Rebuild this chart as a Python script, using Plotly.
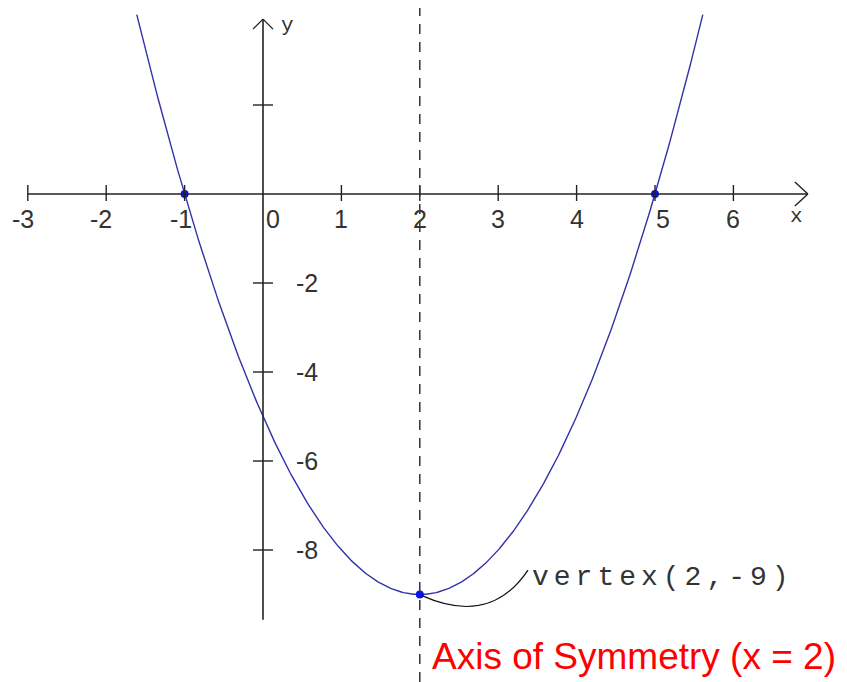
import plotly.graph_objects as go
import numpy as np

# ---- data ----
coef_a, coef_b, coef_c = 1, -4, -5          # y = x^2 - 4x - 5
curve_x_min, curve_x_max = -1.61, 5.61
key_x = [-1, 5, 2]
key_y = [0, 0, -9]
x_ticks = [-3, -2, -1, 0, 1, 2, 3, 4, 5, 6]
x_tick_labels = ["-3", "-2", "-1", "0", "1", "2", "3", "4", "5", "6"]
y_ticks = [2, -2, -4, -6, -8]
y_tick_labels = ["", "-2", "-4", "-6", "-8"]
axis_of_symmetry = 2
vertex_label = "vertex(2,-9)"
axis_label = "Axis of Symmetry (x = 2)"

# ---- geometry (page body has an 8px margin) ----
W, H = 839, 674
PX_X = 78.4   # px per x unit
PX_Y = 44.5   # px per y unit
X0PX, Y0PX = 255, 186
xr = [-X0PX / PX_X, (W - X0PX) / PX_X]
yr = [-(H - Y0PX) / PX_Y, Y0PX / PX_Y]

xs = np.linspace(curve_x_min, curve_x_max, 400)
ys = coef_a * xs**2 + coef_b * xs + coef_c

fig = go.Figure()
fig.add_trace(go.Scatter(x=xs, y=ys, mode="lines",
                         line=dict(color="#3232a8", width=1.4),
                         hoverinfo="skip", showlegend=False))
fig.add_trace(go.Scatter(x=key_x, y=key_y, mode="markers",
                         marker=dict(color="#0a14e6", size=8),
                         showlegend=False))

shapes = []
axis_col = "#222222"
# x axis
x_end = 6.95
shapes.append(dict(type="line", xref="x", yref="y", x0=-3, x1=x_end, y0=0, y1=0,
                   line=dict(color=axis_col, width=1.6)))
dx, dy = 13 / PX_X, 12 / PX_Y
for s in (1, -1):
    shapes.append(dict(type="line", xref="x", yref="y", x0=x_end - dx, y0=s * dy,
                       x1=x_end, y1=0, line=dict(color=axis_col, width=1.4)))
# y axis
y_top, y_bot = 3.93, -9.57
shapes.append(dict(type="line", xref="x", yref="y", x0=0, x1=0, y0=y_bot, y1=y_top,
                   line=dict(color=axis_col, width=1.6)))
adx, ady = 10 / PX_X, 10 / PX_Y
for s in (1, -1):
    shapes.append(dict(type="line", xref="x", yref="y", x0=s * adx, y0=y_top - ady,
                       x1=0, y1=y_top, line=dict(color=axis_col, width=1.4)))
# x ticks
for xv in x_ticks:
    if xv == 0:
        continue
    shapes.append(dict(type="line", xref="x", yref="y", x0=xv, x1=xv,
                       y0=-7 / PX_Y, y1=9 / PX_Y,
                       line=dict(color=axis_col, width=1.4)))
# y ticks
for yv in y_ticks:
    shapes.append(dict(type="line", xref="x", yref="y", x0=-10 / PX_X, x1=10 / PX_X,
                       y0=yv, y1=yv, line=dict(color=axis_col, width=1.4)))
# axis of symmetry
shapes.append(dict(type="line", xref="x", yref="y", x0=axis_of_symmetry, x1=axis_of_symmetry,
                   y0=yr[0], y1=yr[1],
                   line=dict(color="#333333", width=1.5, dash="10px,8px")))
# callout curve to vertex label
shapes.append(dict(type="path", xref="x", yref="y",
                   path="M 2.02,-9.02 C 2.5,-9.4 3.0,-9.45 3.38,-8.45",
                   line=dict(color="#111111", width=1.3)))

annotations = []
tick_font = dict(family="Liberation Sans, Arial", size=25, color="#333333")
x_shift = {-3: -5, -2: -5, -1: -4, 0: 10, 5: 8}
for xv, lab in zip(x_ticks, x_tick_labels):
    annotations.append(dict(x=xv, y=-25 / PX_Y, xref="x", yref="y", text=lab,
                            showarrow=False, xanchor="center", yanchor="middle",
                            xshift=x_shift.get(xv, 0), font=tick_font))
for yv, lab in zip(y_ticks, y_tick_labels):
    if not lab:
        continue
    annotations.append(dict(x=31 / PX_X, y=yv, xref="x", yref="y", text=lab,
                            showarrow=False, xanchor="left", yanchor="middle",
                            font=tick_font))
mono = "Liberation Mono, Courier New, monospace"
annotations.append(dict(x=0.2, y=3.78, xref="x", yref="y", text="y", showarrow=False,
                        xanchor="left", yanchor="middle",
                        font=dict(family=mono, size=21, color="#333333")))
annotations.append(dict(x=6.8, y=-0.5, xref="x", yref="y", text="x", showarrow=False,
                        xanchor="center", yanchor="middle",
                        font=dict(family=mono, size=21, color="#333333")))
annotations.append(dict(x=3.40, y=-8.62, xref="x", yref="y",
                        text='<span style="letter-spacing:5px">' + vertex_label + '</span>',
                        showarrow=False, xanchor="left", yanchor="middle",
                        font=dict(family=mono, size=28, color="#333333")))
annotations.append(dict(x=2.13, y=-10.4, xref="x", yref="y", text=axis_label,
                        showarrow=False, xanchor="left", yanchor="middle",
                        font=dict(family="Liberation Sans, Arial", size=37, color="#ff0000")))

fig.update_layout(
    width=W, height=H, margin=dict(l=0, r=0, t=0, b=0),
    paper_bgcolor="white", plot_bgcolor="white",
    xaxis=dict(range=xr, visible=False, fixedrange=True),
    yaxis=dict(range=yr, visible=False, fixedrange=True),
    shapes=shapes, annotations=annotations, showlegend=False,
)
fig.write_html("out.html")
